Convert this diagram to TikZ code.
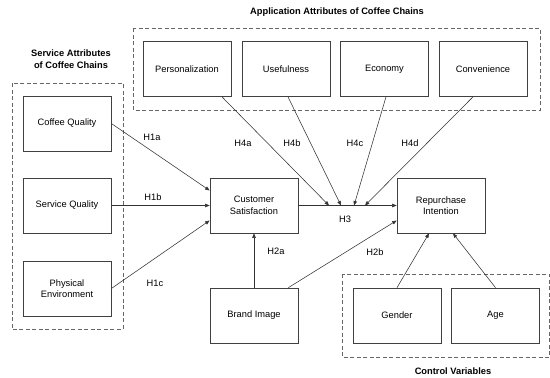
\documentclass[tikz,border=0pt]{standalone}
\usepackage{fontspec}
\setmainfont{Liberation Sans}
\usetikzlibrary{positioning,arrows.meta,calc}
\tikzset{
    every picture/.style={
        line width=0.6pt
    },
    % Style for the construct boxes
    construct/.style={
        draw=black!75,
        fill=white,
        line width=0.7pt,
        minimum width=88pt,
        minimum height=55pt,
        align=center,
        font=\fontsize{9.3}{11.5}\selectfont
    },
    % Dashed group frame
    group frame/.style={
        draw=black!60,
        dash pattern=on 4pt off 2.5pt,
        line width=0.6pt
    },
    % Group titles
    group title/.style={
        font=\fontsize{9.3}{11.5}\selectfont\bfseries,
        align=center
    },
    % Hypothesis arrows
    hyp/.style={
        -{Triangle[length=4.5pt,width=3.5pt]},
        draw=black!80,
        line width=0.55pt
    },
    % Hypothesis labels
    hyp label/.style={
        font=\fontsize{9.3}{11.5}\selectfont,
        inner sep=1pt
    }
}

\begin{document}
\begin{tikzpicture}[x=1pt,y=-1pt]

% Set the canvas size
\path[use as bounding box] (0,0) rectangle (550,378);

% Group frames and titles
\draw[group frame] (133,28) rectangle (540,110);
\node[group title] (appTitle) at (337,12) {Application Attributes of Coffee Chains};

\draw[group frame] (12,83) rectangle (123,329);
\node[group title] (servTitle) at (71,59) {Service Attributes\\of Coffee Chains};

\draw[group frame] (342,274) rectangle (549.5,357);
\node[group title] (ctrlTitle) at (453,371) {Control Variables};

% Application attributes
\node[construct] (pers) at (187,69) {Personalization};
\node[construct] (useful) at (286,69) {Usefulness};
\node[construct] (econ) at (384.5,69) {Economy};
\node[construct] (conv) at (483,69) {Convenience};

% Service attributes
\node[construct] (coffee) at (67,123.5) {Coffee Quality};
\node[construct] (servq) at (67,205.5) {Service Quality};
\node[construct] (phys) at (67,288.5) {Physical\\Environment};

% Core constructs
\node[construct] (cs) at (254,205.5) {Customer\\Satisfaction};
\node[construct] (brand) at (254,315.5) {Brand Image};
\node[construct] (rep) at (441,205.5) {Repurchase\\Intention};

% Control variables
\node[construct] (gender) at (397,315.5) {Gender};
\node[construct] (age) at (495.5,315.5) {Age};

% Moderation points on the H3 path
\coordinate (modA) at (329,205.5);
\coordinate (modB) at (341,205.5);
\coordinate (modC) at (354,205.5);
\coordinate (modD) at (365,205.5);

% H1 arrows
\draw[hyp] (coffee.east) -- ([yshift=15pt]cs.west);
\draw[hyp] (servq.east) -- (cs.west);
\draw[hyp] (phys.east) -- ([yshift=-15pt]cs.west);

% H2 and H3 arrows
\draw[hyp] (brand.north) -- (cs.south);
\draw[hyp] ([xshift=-10pt]brand.north east) -- ([yshift=-15pt]rep.west);
\draw[hyp] (cs.east) -- (rep.west);

% H4 arrows
\draw[hyp] ([xshift=35pt]pers.south) -- (modA);
\draw[hyp] ([xshift=2pt]useful.south) -- (modB);
\draw[hyp] ([xshift=1.5pt]econ.south) -- (modC);
\draw[hyp] ([xshift=-10pt]conv.south) -- (modD);

% Control arrows
\draw[hyp] (gender.north) -- ([xshift=-12pt]rep.south);
\draw[hyp] (age.north) -- ([xshift=12pt]rep.south);

% Hypothesis labels
\node[hyp label] (lblHia) at (152,137) {H1a};
\node[hyp label] (lblHib) at (153,197) {H1b};
\node[hyp label] (lblHic) at (155,283) {H1c};
\node[hyp label] (lblHiia) at (276,251) {H2a};
\node[hyp label] (lblHiib) at (375,252) {H2b};
\node[hyp label] (lblHiii) at (345,219) {H3};
\node[hyp label] (lblHiva) at (243,143) {H4a};
\node[hyp label] (lblHivb) at (292,143) {H4b};
\node[hyp label] (lblHivc) at (355,143) {H4c};
\node[hyp label] (lblHivd) at (410,143) {H4d};

\end{tikzpicture}
\end{document}
